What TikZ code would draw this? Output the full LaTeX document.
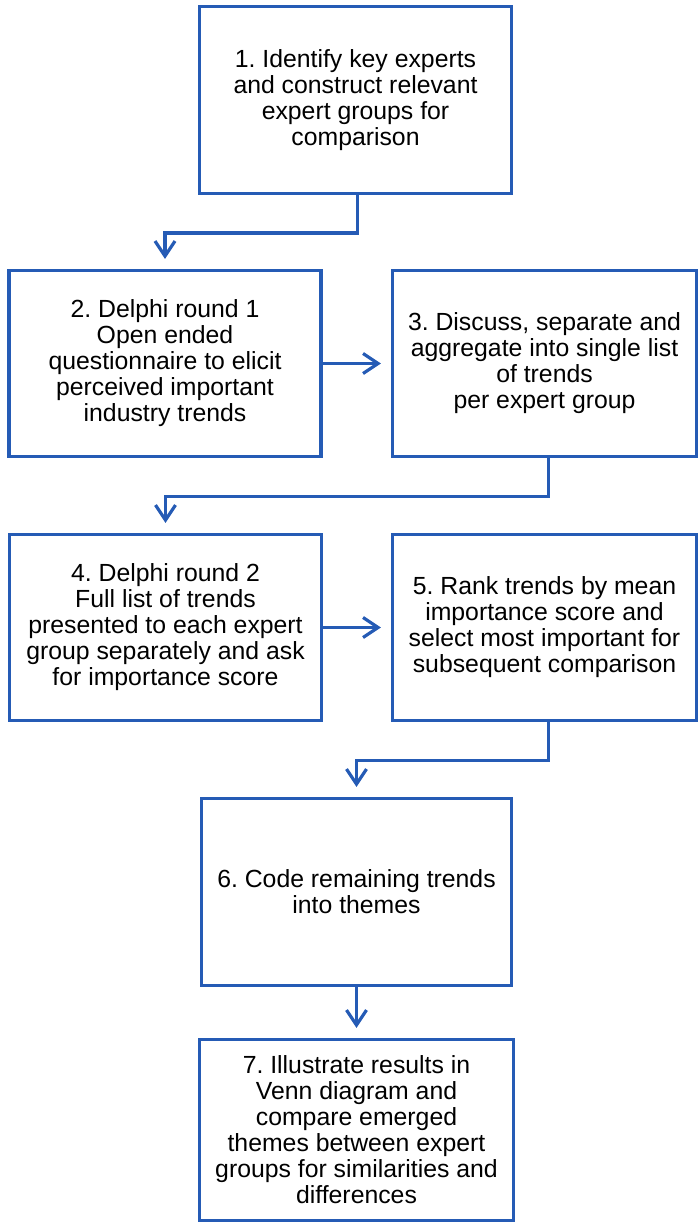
\documentclass[tikz,border=0pt]{standalone}
\usepackage{fontspec}
\setmainfont{Liberation Sans}
\usetikzlibrary{arrows.meta}
\usepackage{xcolor}
\definecolor{flowblue}{RGB}{37,91,181}
\frenchspacing
\tikzset{
	stepbox/.style={rectangle,draw=flowblue,line width=1.6pt,fill=white,align=center,inner sep=0pt,
		minimum width=156pt,minimum height=93pt,font=\fontsize{12.4pt}{13pt}\selectfont},
	flow/.style={draw=flowblue,line width=1.6pt,-{Straight Barb[length=7.5pt,width=10pt]},shorten >=5pt}
}

\begin{document}
\begin{tikzpicture}[x=0.5pt,y=-0.5pt]
				\useasboundingbox (0,0) rectangle (699,1225);
				\node (s1) [stepbox,minimum height=93.5pt] at (355.5,100) {1. Identify key experts\\and construct relevant\\expert groups for\\comparison};
				\node (s2) [stepbox] at (165,363.5) {2. Delphi round 1\\Open ended\\questionnaire to elicit\\perceived important\\industry trends};
				\node (s3) [stepbox,minimum width=152pt] at (544.5,363.5) {3. Discuss, separate and\\aggregate into single list\\of trends\\per expert group};
				\node (s4) [stepbox] at (165.5,627.5) {4. Delphi round 2\\Full list of trends\\presented to each expert\\group separately and ask\\for importance score};
				\node (s5) [stepbox,minimum width=152pt] at (544.5,627.5) {5. Rank trends by mean\\importance score and\\select most important for\\subsequent comparison};
				\node (s6) [stepbox,minimum width=155pt,minimum height=93.5pt] at (356.5,892) {6. Code remaining trends\\into themes};
				\node (s7) [stepbox,minimum width=157pt,minimum height=90.5pt] at (356.5,1130) {7. Illustrate results in\\Venn diagram and\\compare emerged\\themes between expert\\groups for similarities and\\differences};
				\draw [flow]([xshift=1pt]s1.south) -- ++(0,38) -| (s2.north);
				\draw [flow](s2) -- (s3);
				\draw [flow]([xshift=2pt]s3.south) -- ++(0,38) -| (s4.north);
				\draw [flow](s4) -- (s5);
				\draw [flow]([xshift=2pt]s5.south) -- ++(0,38) -| (s6.north);
				\draw [flow](s6) -- (s7);
			\end{tikzpicture}
\end{document}
